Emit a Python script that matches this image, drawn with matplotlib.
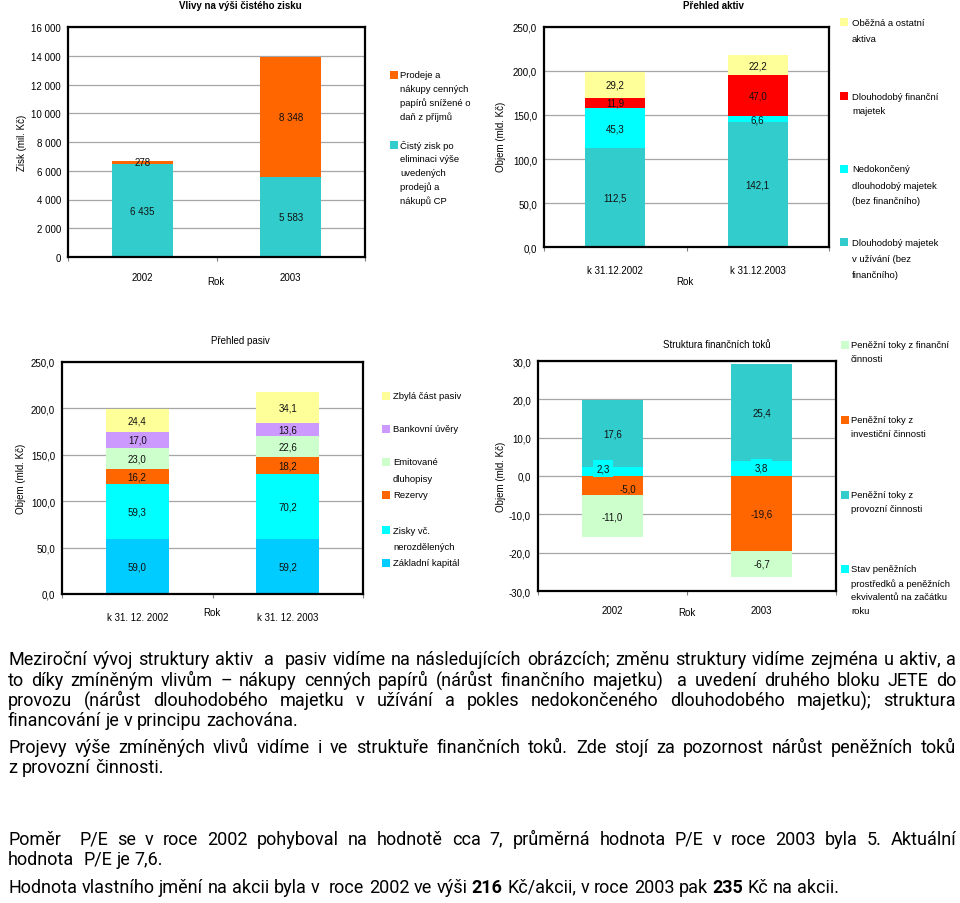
import math
import matplotlib
matplotlib.use('Agg')
import matplotlib.pyplot as plt
from matplotlib.patches import Rectangle
from matplotlib.font_manager import FontProperties
import numpy as np

# ---------------- data ----------------
zisk_years = ['2002', '2003']
zisk_cisty = [6435, 5583]
zisk_prodeje = [278, 8348]

aktiva_dates = ['k 31.12.2002', 'k 31.12.2003']
aktiva_uzivani = [112.5, 142.1]
aktiva_nedokonceny = [45.3, 6.6]
aktiva_financni = [11.9, 47.0]
aktiva_obezna = [29.2, 22.2]

pasiva_dates = ['k 31. 12. 2002', 'k 31. 12. 2003']
pasiva_zakladni = [59.0, 59.2]
pasiva_zisky = [59.3, 70.2]
pasiva_rezervy = [16.2, 18.2]
pasiva_dluhopisy = [23.0, 22.6]
pasiva_uvery = [17.0, 13.6]
pasiva_zbyla = [24.4, 34.1]

toky_years = ['2002', '2003']
toky_stav = [2.3, 3.8]
toky_provozni = [17.6, 25.4]
toky_investicni = [-5.0, -19.6]
toky_financni = [-11.0, -6.7]

# ---------------- style ----------------
W, H = 960, 904
fig = plt.figure(figsize=(W / 100, H / 100), dpi=100)
fig.patch.set_facecolor('white')

CF = 'Liberation Sans'
FS = 7.0
LFS = 6.8
TEAL, ORANGE, YELLOW, RED = '#33CCCC', '#FF6600', '#FFFF99', '#FF0000'
CYAN, BLUE, PURPLE, LGREEN = '#00FFFF', '#00CCFF', '#CC99FF', '#CCFFCC'


def fmt_thousands(v):
    return f"{int(round(v)):,}".replace(',', ' ')


def fmt_dec(v):
    return f"{v:.1f}".replace('.', ',')


def ftext(x, y, s, **kw):
    kw.setdefault('fontsize', FS)
    kw.setdefault('family', CF)
    return fig.text(x / W, 1 - y / H, s, **kw)


def make_ax(l, t, r, b, ymin, ymax, step, fmt, xlabels, xpad):
    ax = fig.add_axes([l / W, 1 - b / H, (r - l) / W, (b - t) / H])
    ax.set_xlim(-0.5, 1.5)
    ax.set_ylim(ymin, ymax)
    ticks = np.arange(ymin, ymax + step / 2, step)
    ax.set_yticks(ticks)
    ax.set_yticklabels([fmt(v) for v in ticks], fontsize=FS, family=CF)
    ax.yaxis.grid(True, color='#a6a6a6', lw=0.9)
    ax.set_axisbelow(True)
    for s in ax.spines.values():
        s.set_linewidth(1.6)
        s.set_color('black')
    ax.tick_params(axis='y', length=0, pad=5)
    ax.set_xticks([0, 1])
    ax.set_xticklabels(xlabels, fontsize=FS, family=CF)
    ax.tick_params(axis='x', which='major', length=0, pad=xpad)
    ax.set_xticks([-0.5, 0.5, 1.5], minor=True)
    ax.tick_params(axis='x', which='minor', length=3, color='#808080', width=0.8)
    return ax


def stack(ax, series, colors, fmt, width=0.41):
    x = np.arange(2)
    bottom = np.zeros(2)
    for vals, c in zip(series, colors):
        vals = np.asarray(vals, dtype=float)
        bc = ax.bar(x, vals, width, bottom=bottom, color=c, lw=0)
        ax.bar_label(bc, labels=[fmt(v) for v in vals], label_type='center',
                     fontsize=FS, fontfamily=CF, color='#111111')
        bottom += vals


def legend_entry(x, ys, color, lines, tx=None):
    sq = 8
    fig.patches.append(Rectangle((x / W, 1 - (ys[0] + sq / 2) / H), sq / W, sq / H,
                                 transform=fig.transFigure, facecolor=color,
                                 edgecolor='none'))
    tx = x + 11 if tx is None else tx
    for y, s in zip(ys, lines):
        ftext(tx, y, s, ha='left', va='center', fontsize=LFS)


# ---------------- chart 1: Vlivy na výši čistého zisku ----------------
ax1 = make_ax(68, 28, 365, 258, 0, 16000, 2000, fmt_thousands, zisk_years, 11)
stack(ax1, [zisk_cisty, zisk_prodeje], [TEAL, ORANGE], fmt_thousands)
ftext(240, 6, 'Vlivy na výši čistého zisku', ha='center', va='center',
      weight='bold', fontsize=7.0)
ftext(22, 143, 'Zisk (mil. Kč)', rotation=90, ha='center', va='center')
ftext(216, 282, 'Rok', ha='center', va='center')
legend_entry(390, [76, 89.5, 103, 117], ORANGE,
             ['Prodeje a', 'nákupy cenných', 'papírů snížené o', 'daň z příjmů'], tx=400)
legend_entry(390, [146, 160, 173.5, 187, 201], TEAL,
             ['Čistý zisk po', 'eliminaci výše', 'uvedených', 'prodejů a', 'nákupů CP'], tx=400)

# ---------------- chart 2: Přehled aktiv ----------------
ax2 = make_ax(544, 28, 829, 248, 0, 250, 50, fmt_dec, aktiva_dates, 13)
stack(ax2, [aktiva_uzivani, aktiva_nedokonceny, aktiva_financni, aktiva_obezna],
      [TEAL, CYAN, RED, YELLOW], fmt_dec, width=0.42)
ftext(713, 6, 'Přehled aktiv', ha='center', va='center', weight='bold', fontsize=7.0)
ftext(501, 137, 'Objem (mld. Kč)', rotation=90, ha='center', va='center')
ftext(685, 282, 'Rok', ha='center', va='center')
legend_entry(840, [23, 40], YELLOW, ['Oběžná a ostatní', 'aktiva'], tx=852)
legend_entry(840, [97, 112], RED, ['Dlouhodobý finanční', 'majetek'], tx=852)
legend_entry(840, [170, 186.5, 202], CYAN,
             ['Nedokončený', 'dlouhodobý majetek', '(bez finančního)'], tx=852)
legend_entry(840, [243, 259, 275], TEAL,
             ['Dlouhodobý majetek', 'v užívání (bez', 'finančního)'], tx=852)

# ---------------- chart 3: Přehled pasiv ----------------
ax3 = make_ax(62, 363, 363, 595, 0, 250, 50, fmt_dec, pasiva_dates, 13)
stack(ax3, [pasiva_zakladni, pasiva_zisky, pasiva_rezervy, pasiva_dluhopisy,
            pasiva_uvery, pasiva_zbyla],
      [BLUE, CYAN, ORANGE, LGREEN, PURPLE, YELLOW], fmt_dec, width=0.42)
ftext(240, 341, 'Přehled pasiv', ha='center', va='center')
ftext(21, 479, 'Objem (mld. Kč)', rotation=90, ha='center', va='center')
ftext(212, 613, 'Rok', ha='center', va='center')
legend_entry(382, [397], YELLOW, ['Zbylá část pasiv'], tx=393)
legend_entry(382, [430], PURPLE, ['Bankovní úvěry'], tx=393)
legend_entry(382, [463, 480], LGREEN, ['Emitované', 'dluhopisy'], tx=393)
legend_entry(382, [496], ORANGE, ['Rezervy'], tx=393)
legend_entry(382, [531, 547], CYAN, ['Zisky vč.', 'nerozdělených'], tx=393)
legend_entry(382, [564], BLUE, ['Základní kapitál'], tx=393)

# ---------------- chart 4: Struktura finančních toků ----------------
ax4 = make_ax(538, 362, 836, 592, -30, 30, 10, fmt_dec, toky_years, 10)
x = np.arange(2)
stav = np.array(toky_stav)
prov = np.array(toky_provozni)
inv = np.array(toky_investicni)
fin = np.array(toky_financni)
ax4.bar(x, stav, 0.41, color=CYAN, lw=0)
bc = ax4.bar(x, prov, 0.41, bottom=stav, color=TEAL, lw=0)
ax4.bar_label(bc, labels=[fmt_dec(v) for v in prov], label_type='center',
              fontsize=FS, fontfamily=CF, color='#111111')
ax4.bar(x, inv, 0.41, color=ORANGE, lw=0)
bc = ax4.bar(x, fin, 0.41, bottom=inv, color=LGREEN, lw=0)
ax4.bar_label(bc, labels=[fmt_dec(v) for v in fin], label_type='center',
              fontsize=FS, fontfamily=CF, color='#111111')
stav_off = [(-7, 2), (0, 1)]
for i in range(2):
    ax4.annotate(fmt_dec(stav[i]), xy=(x[i], stav[i] / 2), xytext=stav_off[i],
                 textcoords='offset points', ha='center', va='center',
                 fontsize=FS, family=CF, color='#111111',
                 bbox=dict(boxstyle='square,pad=0.35', facecolor=CYAN, edgecolor='none'))
inv_off = [(11, -2), (0, 0)]
for i in range(2):
    ax4.annotate(fmt_dec(inv[i]), xy=(x[i], inv[i] / 2), xytext=inv_off[i],
                 textcoords='offset points', ha='center', va='center',
                 fontsize=FS, family=CF, color='#111111')
ftext(717, 345, 'Struktura finančních toků', ha='center', va='center')
ftext(501, 477, 'Objem (mld. Kč)', rotation=90, ha='center', va='center')
ftext(687, 613, 'Rok', ha='center', va='center')
legend_entry(841, [346, 360], LGREEN, ['Peněžní toky z finanční', 'činnosti'], tx=851)
legend_entry(841, [421, 434.5], ORANGE, ['Peněžní toky z', 'investiční činnosti'], tx=851)
legend_entry(841, [496, 509.5], TEAL, ['Peněžní toky z', 'provozní činnosti'], tx=851)
legend_entry(841, [570, 584, 598, 612], CYAN,
             ['Stav peněžních', 'prostředků a peněžních',
              'ekvivalentů na začátku', 'roku'], tx=851)

# ---------------- text paragraphs (word by word, justified) ----------------
TF = 'Roboto'
TS = 13.0
X0, X1 = 8, 956
renderer = fig.canvas.get_renderer()

try:
    from matplotlib.backends.backend_agg import get_hinting_flag
except Exception:
    get_hinting_flag = None


def baseline_error(s, weight, y_px):
    """Pixel offset Agg introduces when rounding a word's bitmap position."""
    try:
        fp = FontProperties(family=TF, size=TS, weight=weight)
        font = renderer._prepare_font(fp)
        font.set_text(s, 0, flags=get_hinting_flag())
        w26, h26 = font.get_width_height()
        d26 = font.get_descent()
        _, yo = font.get_bitmap_offset()
        d = d26 / 64.0
        h = h26 // 64
        ymax = (h26 - d26) / 64.0
        row = round(y_px + yo / 64.0 + d) - h + math.floor(ymax)
        return row - y_px
    except Exception:
        return 0


def width_of(s, weight='normal'):
    t = fig.text(0, 0, s, fontsize=TS, family=TF, weight=weight)
    w = t.get_window_extent(renderer).width
    t.remove()
    return w


SPACE = width_of('a a') - width_of('aa')


def text_line(y, tokens, justify):
    items = []
    for word, wt in tokens:
        if word == '':
            items.append((None, 0.0))
            continue
        e = baseline_error(word, wt, y)
        t = fig.text(0, 1 - (y - e) / H, word, fontsize=TS, family=TF, weight=wt,
                     va='baseline', ha='left', color='black')
        items.append((t, t.get_window_extent(renderer).width))
    total = sum(w for _, w in items)
    gap = (X1 - X0 - total) / (len(items) - 1) if justify else SPACE
    xpos = X0
    for t, w in items:
        if t is not None:
            t.set_x(xpos / W)
        xpos += w + gap


def plain(s):
    return [(w, 'normal') for w in s.split(' ')]


lines = [
    (665, plain('Meziroční vývoj struktury aktiv  a  pasiv vidíme na následujících obrázcích; změnu struktury vidíme zejména u aktiv, a'), True),
    (686, plain('to díky zmíněným vlivům – nákupy cenných papírů (nárůst finančního majetku)  a uvedení druhého bloku JETE do'), True),
    (706, plain('provozu (nárůst dlouhodobého majetku v užívání a pokles nedokončeného dlouhodobého majetku); struktura'), True),
    (726, plain('financování je v principu zachována.'), False),
    (753, plain('Projevy výše zmíněných vlivů vidíme i ve struktuře finančních toků. Zde stojí za pozornost nárůst peněžních toků'), True),
    (773, plain('z provozní činnosti.'), False),
    (845, plain('Poměr  P/E se v roce 2002 pohyboval na hodnotě cca 7, průměrná hodnota P/E v roce 2003 byla 5. Aktuální'), True),
    (865, plain('hodnota  P/E je 7,6.'), False),
    (893, plain('Hodnota vlastního jmění na akcii byla v  roce 2002 ve výši') + [('216', 'bold')]
     + plain('Kč/akcii, v roce 2003 pak') + [('235', 'bold')] + plain('Kč na akcii.'), False),
]
for y, toks, just in lines:
    text_line(y, toks, just)

fig.savefig('out.png', dpi=100, facecolor='white')
